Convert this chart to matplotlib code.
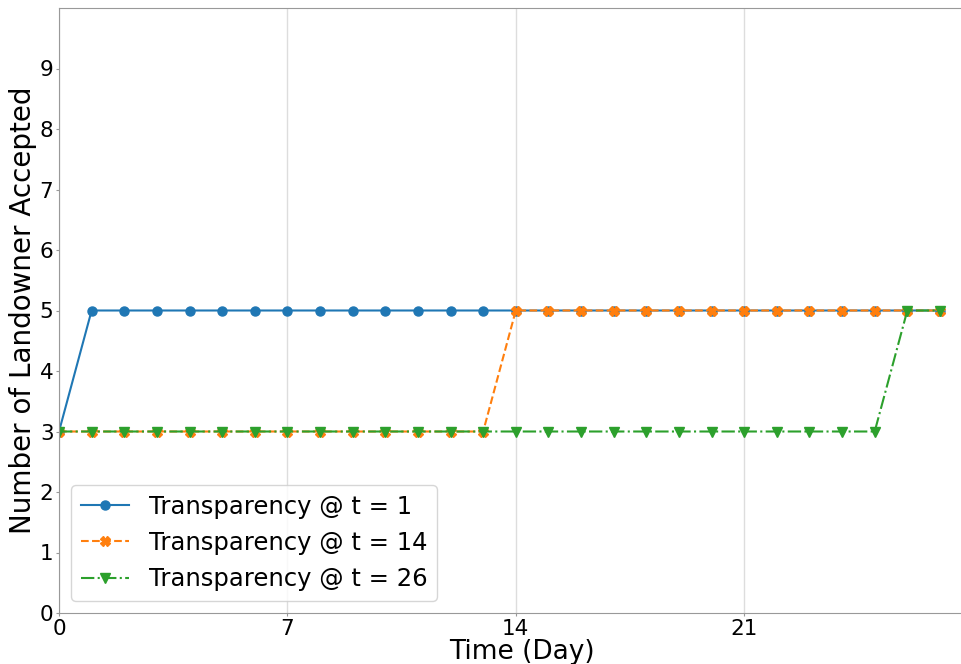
import matplotlib.pyplot as plt

days = list(range(28))

# landowners accepted per day, one series per transparency start day
accepted_t1 = [3] + [5] * 27
accepted_t14 = [3] * 14 + [5] * 14
accepted_t26 = [3] * 26 + [5] * 2

labels = ["Transparency @ t = 1", "Transparency @ t = 14", "Transparency @ t = 26"]
x_ticks = [0, 7, 14, 21]
y_ticks = list(range(10))


def main():
    fig = plt.figure(figsize=(9.61, 6.64), dpi=100)
    ax = fig.add_axes([59 / 961, 51 / 664, 925 / 961, 605 / 664])

    ax.plot(days, accepted_t1, color="tab:blue", linestyle="-", marker="o",
            markersize=6.5, linewidth=1.5, label=labels[0])
    ax.plot(days, accepted_t14, color="tab:orange", linestyle="--", marker="X",
            markersize=7, linewidth=1.5, label=labels[1])
    ax.plot(days, accepted_t26, color="tab:green", linestyle="-.", marker="v",
            markersize=7, linewidth=1.5, label=labels[2])

    ax.set_xlim(0, 28.35)
    ax.set_ylim(0, 10)
    ax.set_xticks(x_ticks)
    ax.set_yticks(y_ticks)
    ax.tick_params(labelsize=15.5, color="#999999", length=2, pad=2)
    ax.grid(axis="x", color="#dddddd", linewidth=1)
    ax.set_axisbelow(True)
    for side in ax.spines.values():
        side.set_color("#999999")

    ax.set_xlabel("Time (Day)", fontsize=19, labelpad=0)
    ax.set_ylabel("Number of Landowner Accepted", fontsize=20, labelpad=2)
    ax.legend(loc="lower left", fontsize=17.5)

    fig.savefig("out.png", dpi=100)


if __name__ == "__main__":
    main()
